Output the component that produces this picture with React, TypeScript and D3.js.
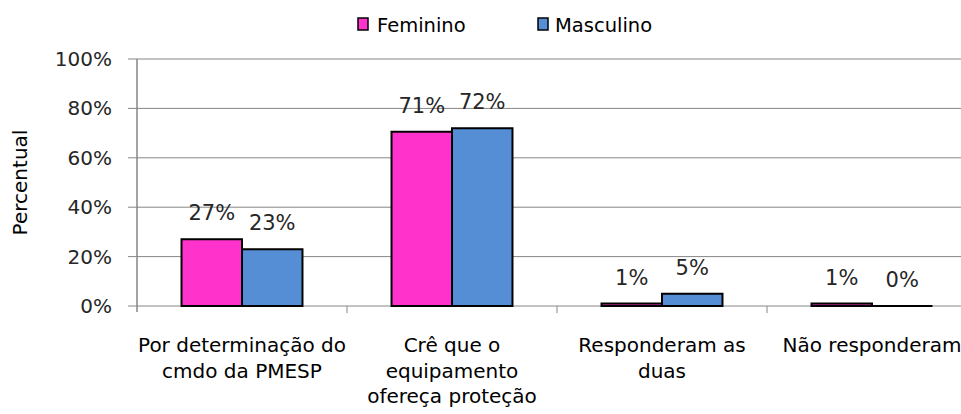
import React from "react";
import * as d3 from "d3";

const categories = [
  ["Por determinação do", "cmdo da PMESP"],
  ["Crê que o", "equipamento", "ofereça proteção"],
  ["Responderam as", "duas"],
  ["Não responderam"],
];
const categoryKeys = ["c1", "c2", "c3", "c4"];
const seriesNames = ["Feminino", "Masculino"];
const feminino = [27, 70.5, 1, 1];
const masculino = [23, 72, 5, 0];
const femininoLabels = ["27%", "71%", "1%", "1%"];
const masculinoLabels = ["23%", "72%", "5%", "0%"];
const yTicks = [0, 20, 40, 60, 80, 100];
const colors = ["#FF33CC", "#558ED5"];

export default function App() {
  const W = 961, H = 414;
  const left = 137, right = 977, top = 59, bottom = 306;
  const x = d3.scaleBand().domain(categoryKeys).range([left, right]).padding(0);
  const bw = x.bandwidth();
  const x1 = d3.scaleBand().domain(seriesNames).range([bw * 0.212, bw * 0.788]).padding(0);
  const y = d3.scaleLinear().domain([0, 100]).range([bottom, top]);
  const series = [feminino, masculino];
  const labels = [femininoLabels, masculinoLabels];
  const font = "'DejaVu Sans', sans-serif";
  const grid = "#868686";

  return (
    <svg width={W} height={H} style={{ position: "absolute", left: 0, top: 0, background: "#fff" }}>
      {/* legend */}
      <g fontFamily={font} fontSize={19.5} fill="#000">
        <rect x={358} y={18} width={10} height={12} fill={colors[0]} stroke="#000" strokeWidth={1.5} />
        <text x={377} y={25} dominantBaseline="central">Feminino</text>
        <rect x={538} y={18} width={10} height={12} fill={colors[1]} stroke="#000" strokeWidth={1.5} />
        <text x={555} y={25} dominantBaseline="central">Masculino</text>
      </g>
      {/* gridlines */}
      {yTicks.map((t) => (
        <g key={t}>
          <line x1={left - 9} x2={right} y1={y(t)} y2={y(t)} stroke={grid} strokeWidth={1} />
          <text x={112} y={y(t)} textAnchor="end" dominantBaseline="central" fontFamily={font} fontSize={20} fill="#262626">
            {t}%
          </text>
        </g>
      ))}
      <line x1={left} x2={left} y1={top} y2={bottom + 6} stroke={grid} strokeWidth={1.5} />
      {categoryKeys.map((k) => (
        <line key={k} x1={(x(k) as number) + bw} x2={(x(k) as number) + bw} y1={bottom} y2={bottom + 7} stroke={grid} strokeWidth={1} />
      ))}
      <text transform={`translate(20,${(top + bottom) / 2}) rotate(-90)`} textAnchor="middle" dominantBaseline="central" fontFamily={font} fontSize={20} fill="#000">
        Percentual
      </text>
      {/* bars */}
      {categoryKeys.map((k, i) => (
        <g key={k} transform={`translate(${x(k)},0)`}>
          {seriesNames.map((s, j) => {
            const v = series[j][i];
            const bx = x1(s) as number;
            const w = x1.bandwidth();
            const path = d3.path();
            path.moveTo(bx, bottom);
            path.lineTo(bx, y(v));
            path.lineTo(bx + w, y(v));
            path.lineTo(bx + w, bottom);
            path.closePath();
            return (
              <g key={s}>
                <path d={path.toString()} fill={colors[j]} stroke="#000" strokeWidth={2} />
                <text x={bx + w / 2} y={y(v) - 19} textAnchor="middle" fontFamily={font} fontSize={21} fill="#262626">
                  {labels[j][i]}
                </text>
              </g>
            );
          })}
          {categories[i].map((line, li) => (
            <text key={li} x={bw / 2} y={352 + li * 25.5} textAnchor="middle" fontFamily={font} fontSize={20} fill="#000">
              {line}
            </text>
          ))}
        </g>
      ))}
    </svg>
  );
}
